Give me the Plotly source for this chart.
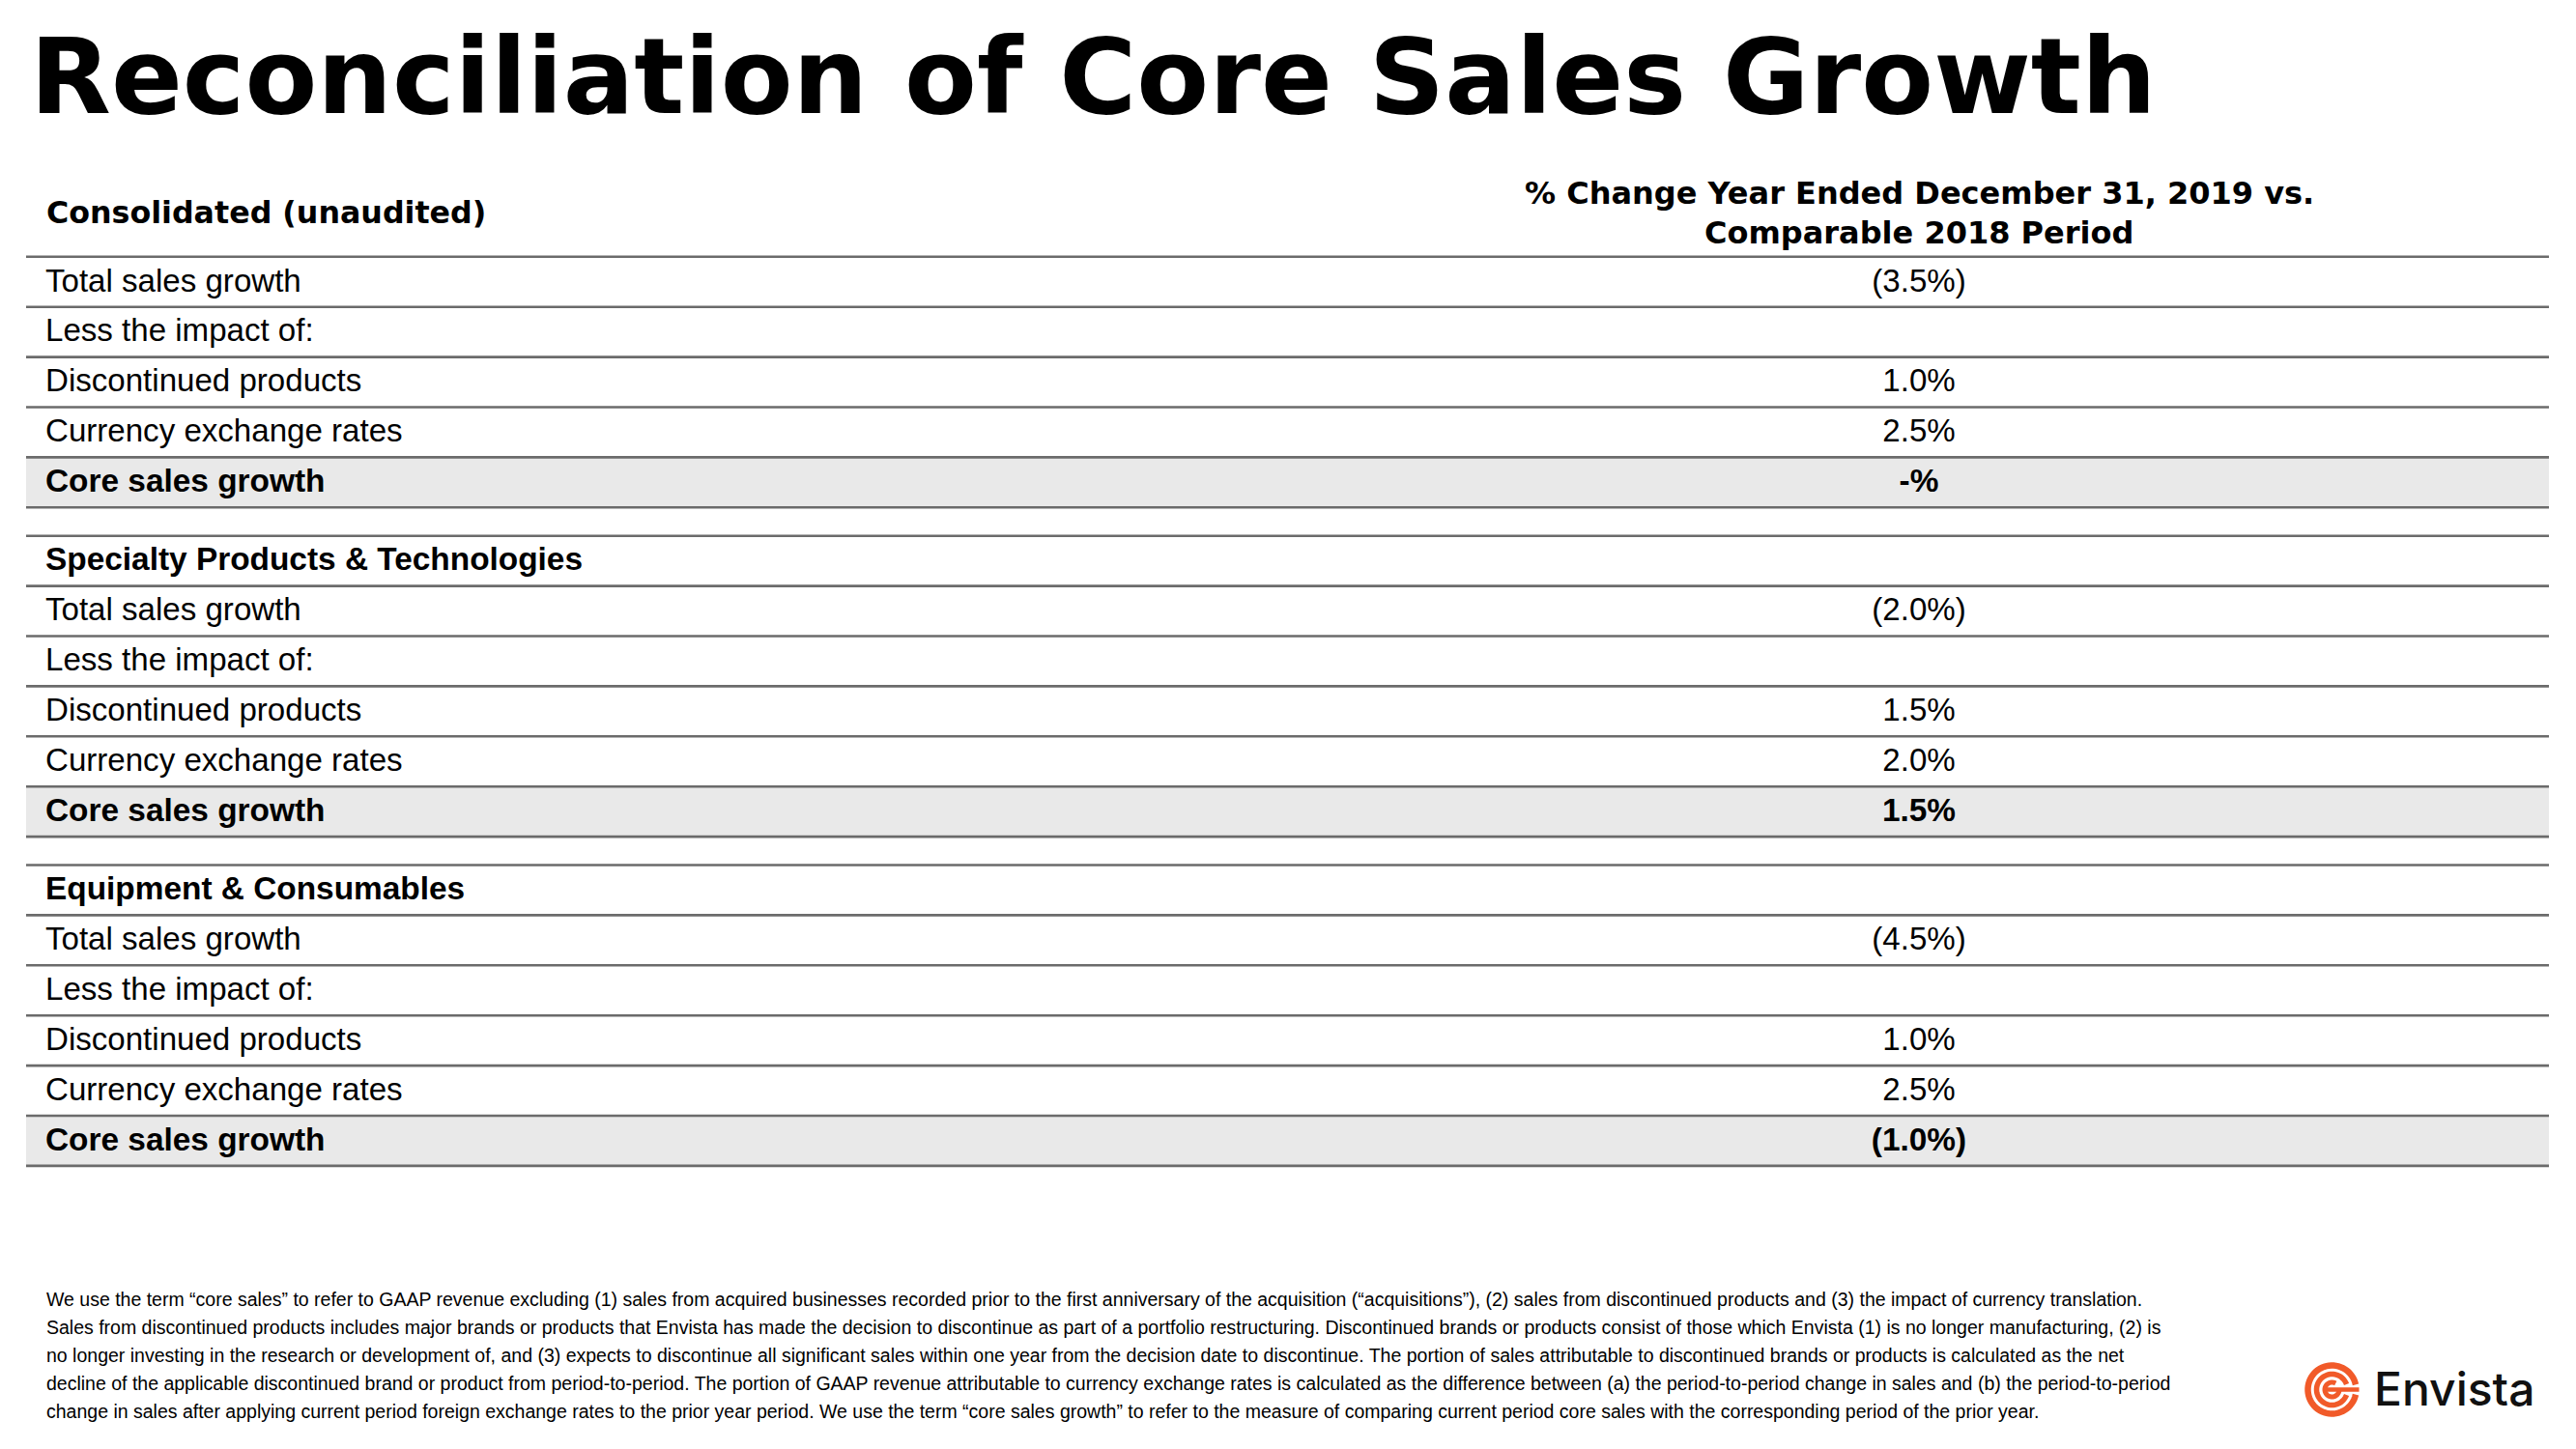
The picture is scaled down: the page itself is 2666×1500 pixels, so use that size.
import numpy as np
import plotly.graph_objects as go

# ---------------- data ----------------
title_text = "Reconciliation of Core Sales Growth"
section_names = ["Consolidated (unaudited)", "Specialty Products & Technologies", "Equipment & Consumables"]
row_labels = ["Total sales growth", "Less the impact of:", "Discontinued products",
              "Currency exchange rates", "Core sales growth"]
consolidated_values = ["(3.5%)", "", "1.0%", "2.5%", "-%"]
spt_values = ["(2.0%)", "", "1.5%", "2.0%", "1.5%"]
enc_values = ["(4.5%)", "", "1.0%", "2.5%", "(1.0%)"]
column_header_lines = ["% Change Year Ended December 31, 2019 vs.", "Comparable 2018 Period"]
footnote_lines = [
    "We use the term \u201ccore sales\u201d to refer to GAAP revenue excluding (1) sales from acquired businesses recorded prior to the first anniversary of the acquisition (\u201cacquisitions\u201d), (2) sales from discontinued products and (3) the impact of currency translation.",
    "Sales from discontinued products includes major brands or products that Envista has made the decision to discontinue as part of a portfolio restructuring. Discontinued brands or products consist of those which Envista (1) is no longer manufacturing, (2) is",
    "no longer investing in the research or development of, and (3) expects to discontinue all significant sales within one year from the decision date to discontinue. The portion of sales attributable to discontinued brands or products is calculated as the net",
    "decline of the applicable discontinued brand or product from period-to-period. The portion of GAAP revenue attributable to currency exchange rates is calculated as the difference between (a) the period-to-period change in sales and (b) the period-to-period",
    "change in sales after applying current period foreign exchange rates to the prior year period. We use the term \u201ccore sales growth\u201d to refer to the measure of comparing current period core sales with the corresponding period of the prior year.",
]
brand_name = "Envista"

section_values = [consolidated_values, spt_values, enc_values]

# ---------------- layout constants ----------------
W, H = 2666, 1500
X_LEFT, X_RIGHT = 27, 2638
LABEL_X = 47
VALUE_X = 1986
ROW_H = 51.9
SECTION_GAP = 29.4
FIRST_TOP = 265.8
TEXT_SHIFT = 1.5
LINE_COLOR = "#6b6b6b"
SHADE = "#e9e9e9"
ORANGE = "#f15a29"
ARIAL = "Liberation Sans, Arial, Helvetica, sans-serif"
HEAVY = "DejaVu Sans, Arial Black, sans-serif"
BODY_SIZE = 33.1
BOLD_SIZE = 33.4

# ---------------- build table rows ----------------
rows = []
lines_y = []
y = FIRST_TOP
for s in range(len(section_names)):
    if s > 0:
        y += SECTION_GAP
    sec_rows = []
    if s > 0:
        sec_rows.append((section_names[s], "", "section"))
    for lab, val in zip(row_labels, section_values[s]):
        sec_rows.append((lab, val, "core" if lab == "Core sales growth" else "normal"))
    lines_y.append(y)
    for lab, val, kind in sec_rows:
        rows.append(dict(top=y, center=y + ROW_H / 2 + TEXT_SHIFT, label=lab, value=val, kind=kind))
        y += ROW_H
        lines_y.append(y)

fig = go.Figure()

shapes = []
for r in rows:
    if r["kind"] == "core":
        shapes.append(dict(type="rect", xref="x", yref="y", x0=X_LEFT, x1=X_RIGHT,
                           y0=r["top"], y1=r["top"] + ROW_H, fillcolor=SHADE,
                           line=dict(width=0), layer="below"))
for ly in lines_y:
    shapes.append(dict(type="line", xref="x", yref="y", x0=X_LEFT, x1=X_RIGHT, y0=ly, y1=ly,
                       line=dict(color=LINE_COLOR, width=2.6), layer="above"))

# logo icon (decorative)
cx, cy = 2413.5, 1438.5
def arc(r, a0, a1, n=60):
    t = np.radians(np.linspace(a0, a1, n))
    xs = cx + r * np.cos(t)
    ys = cy + r * np.sin(t)
    return "M " + " L ".join(f"{a:.2f},{b:.2f}" for a, b in zip(xs, ys))
for r, a0, a1, w in [(25, 12, 348, 6.5), (16, 20, 340, 5.5), (7.5, 0, 300, 5)]:
    shapes.append(dict(type="path", xref="x", yref="y", path=arc(r, a0, a1),
                       line=dict(color=ORANGE, width=w)))
shapes.append(dict(type="line", xref="x", yref="y", x0=cx - 7.5, x1=cx + 28, y0=cy, y1=cy,
                   line=dict(color=ORANGE, width=4.5)))

# ---------------- text traces ----------------
def add_text(xs, ys, texts, pos, weight, size, family=ARIAL):
    fig.add_trace(go.Scatter(x=xs, y=ys, text=texts, mode="text", textposition=pos,
                             textfont=dict(family=family, size=size, color="#000000", weight=weight),
                             hoverinfo="skip", showlegend=False))

norm = [r for r in rows if r["kind"] == "normal"]
bold = [r for r in rows if r["kind"] != "normal"]
add_text([LABEL_X] * len(norm), [r["center"] for r in norm], [r["label"] for r in norm], "middle right", 400, BODY_SIZE)
add_text([LABEL_X] * len(bold), [r["center"] for r in bold], [r["label"] for r in bold], "middle right", 700, BOLD_SIZE)
add_text([VALUE_X] * len(norm), [r["center"] for r in norm], [r["value"] for r in norm], "middle center", 400, BODY_SIZE)
add_text([VALUE_X] * len(bold), [r["center"] for r in bold], [r["value"] for r in bold], "middle center", 700, BOLD_SIZE)

annotations = []
annotations.append(dict(x=29, y=79, xref="x", yref="y", text=title_text, showarrow=False,
                        xanchor="left", yanchor="middle",
                        font=dict(family=HEAVY, size=109, color="#000000", weight=700)))
annotations.append(dict(x=45.5, y=219.5, xref="x", yref="y", text=section_names[0], showarrow=False,
                        xanchor="left", yanchor="middle",
                        font=dict(family=HEAVY, size=31.7, color="#000000", weight=700)))
for t, yy in zip(column_header_lines, [200, 241]):
    annotations.append(dict(x=VALUE_X, y=yy, xref="x", yref="y", text=t, showarrow=False,
                            xanchor="center", yanchor="middle",
                            font=dict(family=HEAVY, size=32, color="#000000", weight=700)))
for i, t in enumerate(footnote_lines):
    annotations.append(dict(x=46, y=1345 + i * 28.9, xref="x", yref="y", text=t, showarrow=False,
                            xanchor="left", yanchor="middle",
                            font=dict(family=ARIAL, size=19.5, color="#000000")))
annotations.append(dict(x=2455, y=1437.8, xref="x", yref="y", text=brand_name, showarrow=False,
                        xanchor="left", yanchor="middle",
                        font=dict(family="Inter, Lato, sans-serif", size=48, color="#111111", weight=500)))

fig.update_layout(
    width=W, height=H,
    margin=dict(l=0, r=0, t=0, b=0, pad=0),
    paper_bgcolor="#ffffff", plot_bgcolor="#ffffff",
    xaxis=dict(range=[0, W], visible=False, fixedrange=True),
    yaxis=dict(range=[H, 0], visible=False, fixedrange=True),
    shapes=shapes, annotations=annotations, showlegend=False,
)

fig.write_html("out.html", config={"displayModeBar": False},
               post_script="document.body.style.margin='0';document.body.style.padding='0';")
